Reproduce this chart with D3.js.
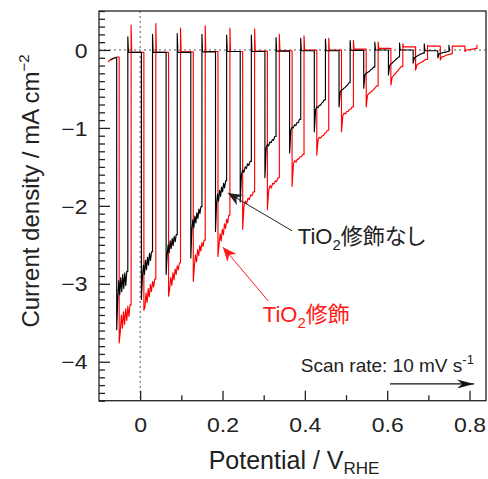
<!DOCTYPE html>
<html><head><meta charset="utf-8">
<script src="https://cdn.jsdelivr.net/npm/d3@7"></script>
<style>
body{margin:0;background:#fff;}
svg text{font-family:"Liberation Sans",Arial,"Noto Sans CJK JP",sans-serif;}
</style></head><body>
<svg id="chart" width="488" height="479"></svg>
<script>
// ---------------- data (potential V vs RHE, current density mA cm^-2) ----------------
const xTicks = [0, 0.2, 0.4, 0.6, 0.8];
const xMinorTicks = [0.1, 0.3, 0.5, 0.7];
const yTicks = [0, -1, -2, -3, -4];

// TiO2 unmodified (black)
const blackStart = [[-0.072, -0.13], [-0.066, -0.11], [-0.060, -0.10]];
const blackOn  = [-0.057, 0.003, 0.063, 0.123, 0.183, 0.243, 0.303, 0.363, 0.423, 0.483, 0.543, 0.603, 0.663, 0.723];
const blackOff = [-0.030, 0.030, 0.090, 0.150, 0.210, 0.270, 0.330, 0.390, 0.450, 0.510, 0.570, 0.630, 0.690, 0.750];
const blackPeak = [-3.59, -3.20, -2.88, -2.67, -2.33, -1.95, -1.64, -1.32, -1.05, -0.73, -0.49, -0.32, -0.17, -0.10];
const blackPlateau = [
  [-3.22, -2.96, -3.14, -2.92, -3.10, -2.88, -3.06, -2.86, -3.02, -2.84],
  [-2.92, -2.76, -2.88, -2.70, -2.82, -2.66, -2.76, -2.61, -2.70, -2.59],
  [-2.64, -2.50, -2.60, -2.45, -2.55, -2.42, -2.51, -2.39, -2.46, -2.37],
  [-2.32, -2.18, -2.28, -2.13, -2.22, -2.09, -2.16, -2.04, -2.10, -2.01],
  [-1.98, -1.85, -1.94, -1.80, -1.88, -1.76, -1.82, -1.71, -1.77, -1.68],
  [-1.60, -1.54, -1.57, -1.50, -1.52, -1.46, -1.48, -1.43],
  [-1.26, -1.21, -1.23, -1.18, -1.19, -1.15, -1.16, -1.11],
  [-1.03, -0.99, -1.00, -0.96, -0.97, -0.93, -0.93, -0.89],
  [-0.77, -0.73, -0.74, -0.71, -0.71, -0.68, -0.67, -0.64],
  [-0.54, -0.51, -0.51, -0.49, -0.48, -0.46, -0.45, -0.42],
  [-0.32, -0.30, -0.29, -0.28, -0.27, -0.25, -0.24, -0.22],
  [-0.20, -0.18, -0.17, -0.15, -0.14, -0.12, -0.11, -0.09],
  [-0.10, -0.09, -0.08, -0.07, -0.06, -0.05, -0.05, -0.04],
  [-0.05, -0.045, -0.04, -0.035, -0.03, -0.03, -0.025, -0.02]
];
const blackSpike = [0.17, 0.20, 0.21, 0.20, 0.19, 0.19, 0.16, 0.15, 0.14, 0.12, 0.10, 0.09, 0.08, 0.06];
const blackDark  = [-0.03, -0.03, -0.03, -0.025, -0.02, -0.02, -0.015, -0.01, -0.01, -0.005, 0.0, 0.0, -0.01, 0.0];

// TiO2 modified (red)
const redStart = [[-0.078, -0.15], [-0.070, -0.12], [-0.062, -0.10], [-0.056, -0.09]];
const redOn  = [-0.051, 0.009, 0.069, 0.129, 0.189, 0.249, 0.309, 0.369, 0.429, 0.489, 0.549, 0.609, 0.669, 0.729, 0.789];
const redOff = [-0.022, 0.038, 0.098, 0.158, 0.218, 0.278, 0.338, 0.398, 0.458, 0.518, 0.578, 0.638, 0.698, 0.758, 0.818];
const redPeak = [-3.76, -3.34, -3.16, -2.97, -2.65, -2.30, -2.05, -1.75, -1.35, -1.05, -0.73, -0.45, -0.26, -0.13, -0.02];
const redPlateau = [
  [-3.62, -3.40, -3.57, -3.36, -3.52, -3.32, -3.47, -3.29, -3.42, -3.27],
  [-3.30, -3.12, -3.24, -3.06, -3.17, -3.01, -3.10, -2.97, -3.04, -2.94],
  [-3.07, -2.92, -3.02, -2.86, -2.95, -2.81, -2.88, -2.77, -2.82, -2.73],
  [-2.78, -2.63, -2.72, -2.56, -2.64, -2.51, -2.58, -2.47, -2.52, -2.44],
  [-2.50, -2.36, -2.45, -2.30, -2.37, -2.23, -2.29, -2.17, -2.22, -2.12],
  [-2.00, -1.94, -1.97, -1.90, -1.92, -1.86, -1.87, -1.82],
  [-1.80, -1.74, -1.77, -1.71, -1.72, -1.68, -1.69, -1.64],
  [-1.46, -1.42, -1.44, -1.40, -1.40, -1.37, -1.37, -1.34],
  [-1.15, -1.12, -1.13, -1.10, -1.10, -1.07, -1.06, -1.03],
  [-0.84, -0.81, -0.82, -0.79, -0.79, -0.76, -0.76, -0.73],
  [-0.58, -0.56, -0.55, -0.53, -0.52, -0.50, -0.48, -0.46],
  [-0.35, -0.33, -0.31, -0.29, -0.27, -0.25, -0.23, -0.21],
  [-0.19, -0.18, -0.17, -0.16, -0.15, -0.14, -0.13, -0.12],
  [-0.09, -0.085, -0.08, -0.07, -0.065, -0.06, -0.055, -0.05],
  [0.0, 0.0, 0.005, 0.005, 0.01, 0.01, 0.015, 0.02]
];
const redSpike = [0.32, 0.34, 0.28, 0.31, 0.28, 0.27, 0.20, 0.18, 0.15, 0.12, 0.10, 0.08, 0.06, 0.05, 0.06];
const redDark  = [-0.03, -0.03, -0.025, -0.02, -0.02, -0.015, -0.01, 0.0, 0.0, 0.01, 0.02, 0.04, 0.05, 0.05, 0.06];

// annotations (data coordinates)
const annBlack = {text: "TiO", sub: "2", rest: "修飾なし", tx: 0.383, ty: -2.49, from: [0.369, -2.32], to: [0.213, -1.835]};
const annRed   = {text: "TiO", sub: "2", rest: "修飾",     tx: 0.298, ty: -3.49, from: [0.311, -3.22], to: [0.201, -2.53]};
const scanNote = {text: "Scan rate: 10 mV s", sup: "-1", tx: 0.39, ty: -4.13, from: [0.607, -4.285], to: [0.811, -4.285]};

// ---------------- drawing ----------------
const svg = d3.select("#chart");
const m = {l: 99, r: 486, t: 11, b: 400.7};
const x = d3.scaleLinear().domain([-0.1, 0.84]).range([m.l, m.r]);
const y = d3.scaleLinear().domain([-4.5, 0.5]).range([m.b, m.t]);
const axisColor = "#222";

const defs = svg.append("defs");
defs.append("clipPath").attr("id", "plotclip").append("rect")
  .attr("x", m.l).attr("y", m.t).attr("width", m.r - m.l).attr("height", m.b - m.t);
function marker(id, color, w, h) {
  defs.append("marker").attr("id", id)
    .attr("viewBox", `0 0 ${w} ${h}`).attr("refX", w).attr("refY", h / 2)
    .attr("markerWidth", w).attr("markerHeight", h)
    .attr("markerUnits", "userSpaceOnUse").attr("orient", "auto")
    .append("path").attr("d", `M0,0 L${w},${h / 2} L0,${h} L${w * 0.3},${h / 2} Z`).attr("fill", color);
}
marker("ahBlack", "#222", 14, 12);
marker("ahRed", "#ff1a1a", 14, 12);
marker("ahScan", "#111", 17, 9);

// reference dotted lines
svg.append("line").attr("x1", m.l).attr("x2", m.r).attr("y1", y(0)).attr("y2", y(0))
  .attr("stroke", "#555").attr("stroke-width", 1).attr("stroke-dasharray", "2,3");
svg.append("line").attr("x1", x(0)).attr("x2", x(0)).attr("y1", m.t).attr("y2", m.b)
  .attr("stroke", "#555").attr("stroke-width", 1).attr("stroke-dasharray", "2,3");

function buildTrace(start, on, off, peak, plateau, spike, dark) {
  const pts = start.map(d => d.slice());
  let level = start[start.length - 1][1];
  on.forEach((vOn, k) => {
    const vOff = off[k];
    pts.push([vOn, level]);
    pts.push([vOn, peak[k]]);
    const p = plateau[k], n = p.length;
    p.forEach((j, i) => pts.push([vOn + (vOff - vOn) * (i + 1) / (n + 1), j]));
    pts.push([vOff, p[n - 1]]);
    pts.push([vOff, spike[k]]);
    pts.push([vOff + 0.0015, dark[k]]);
    level = dark[k];
  });
  return pts;
}
const line = d3.line().x(d => x(d[0])).y(d => y(d[1]));
const gData = svg.append("g").attr("clip-path", "url(#plotclip)");
gData.append("path").datum(buildTrace(redStart, redOn, redOff, redPeak, redPlateau, redSpike, redDark))
  .attr("d", line).attr("fill", "none").attr("stroke", "#ff0000").attr("stroke-width", 1.15).attr("stroke-linejoin", "round");
gData.append("path").datum(buildTrace(blackStart, blackOn, blackOff, blackPeak, blackPlateau, blackSpike, blackDark))
  .attr("d", line).attr("fill", "none").attr("stroke", "#000").attr("stroke-width", 1.15).attr("stroke-linejoin", "round");

// axes
const fmt = d => d < 0 ? "\u2212" + Math.abs(d) : String(d);
const gx = svg.append("g").attr("transform", `translate(0,${m.b})`)
  .call(d3.axisBottom(x).tickValues(xTicks).tickSize(-10).tickFormat(fmt));
const gxm = svg.append("g").attr("transform", `translate(0,${m.b})`)
  .call(d3.axisBottom(x).tickValues(xMinorTicks).tickSize(-5.5).tickFormat(""));
const yMinor = d3.range(-45, 6).map(i => i / 10).filter(v => Math.abs(v - Math.round(v)) > 1e-6);
const gy = svg.append("g").attr("transform", `translate(${m.l},0)`)
  .call(d3.axisLeft(y).tickValues(yTicks).tickSize(-11).tickFormat(fmt));
const gym = svg.append("g").attr("transform", `translate(${m.l},0)`)
  .call(d3.axisLeft(y).tickValues(yMinor).tickSize(-6).tickFormat(""));
[gx, gxm, gy, gym].forEach(g => {
  g.select(".domain").remove();
  g.selectAll(".tick line").attr("stroke", axisColor).attr("stroke-width", 1.3);
});
gx.selectAll(".tick text").attr("y", 31).attr("dy", null)
  .attr("font-size", 20).attr("fill", "#222");
gy.selectAll(".tick text").attr("x", -11.5).attr("dy", "0.36em")
  .attr("font-size", 20).attr("fill", "#222");
svg.selectAll(".tick text").each(function () {
  const L = this.getComputedTextLength();
  d3.select(this).attr("textLength", L * 1.15).attr("lengthAdjust", "spacingAndGlyphs");
});
svg.selectAll(".tick text").attr("font-family", null);

// frame
svg.append("rect").attr("x", m.l).attr("y", m.t).attr("width", m.r - m.l).attr("height", m.b - m.t)
  .attr("fill", "none").attr("stroke", axisColor).attr("stroke-width", 1.3);

// axis titles
const xt = svg.append("text").attr("x", 294).attr("y", 469).attr("text-anchor", "middle")
  .attr("font-size", 25).attr("fill", "#222");
xt.append("tspan").text("Potential / V");
xt.append("tspan").attr("font-size", 17).attr("dy", 5).text("RHE");
const yt = svg.append("text").attr("transform", "translate(39,191) rotate(-90)").attr("text-anchor", "middle")
  .attr("font-size", 24).attr("fill", "#222");
yt.append("tspan").text("Current density / mA cm");
yt.append("tspan").attr("font-size", 15).attr("dy", -10).text("\u22122");

// annotations
function annotate(a, color, mk) {
  svg.append("line").attr("x1", x(a.from[0])).attr("y1", y(a.from[1]))
    .attr("x2", x(a.to[0])).attr("y2", y(a.to[1]))
    .attr("stroke", color).attr("stroke-width", 1).attr("marker-end", `url(#${mk})`);
  const t = svg.append("text").attr("x", x(a.tx)).attr("y", y(a.ty)).attr("font-size", 22)
    .attr("fill", color).style("font-feature-settings", '"palt"');
  t.append("tspan").text(a.text);
  t.append("tspan").attr("font-size", 15).attr("dy", 6).text(a.sub);
  t.append("tspan").attr("dy", -6).text(a.rest);
}
annotate(annBlack, "#222", "ahBlack");
annotate(annRed, "#ff1a1a", "ahRed");

const st = svg.append("text").attr("x", x(scanNote.tx)).attr("y", y(scanNote.ty))
  .attr("font-size", 19).attr("fill", "#222");
st.append("tspan").text(scanNote.text);
st.append("tspan").attr("font-size", 13).attr("dy", -8).text(scanNote.sup);
svg.append("line").attr("x1", x(scanNote.from[0])).attr("y1", y(scanNote.from[1]))
  .attr("x2", x(scanNote.to[0])).attr("y2", y(scanNote.to[1]))
  .attr("stroke", "#111").attr("stroke-width", 1.3).attr("marker-end", "url(#ahScan)");
</script>
</body></html>
